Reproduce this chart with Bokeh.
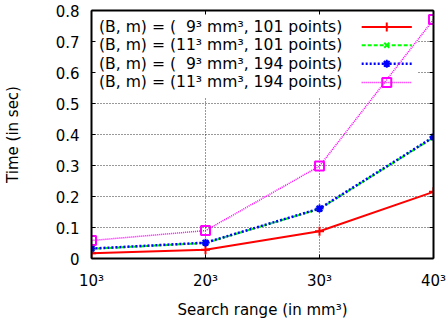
from bokeh.plotting import figure
from bokeh.models import FixedTicker, LinearAxis, CustomJSTickFormatter, Range1d
from bokeh.core.properties import value
from bokeh.embed import file_html
from bokeh.resources import INLINE

# search ranges (edge length cubed) on an evenly spaced axis
range_pos = [1, 2, 3, 4]
range_labels = ["10³", "20³", "30³", "40³"]

# run time in seconds for each (B, m) configuration
t_b9_m101 = [0.017, 0.028, 0.088, 0.215]
t_b11_m101 = [0.031, 0.050, 0.160, 0.390]
t_b9_m194 = [0.032, 0.051, 0.161, 0.392]
t_b11_m194 = [0.058, 0.090, 0.298, 0.771]

series_labels = [
    "(B, m) = (\u20079³ mm³, 101 points)",
    "(B, m) = (11³ mm³, 101 points)",
    "(B, m) = (\u20079³ mm³, 194 points)",
    "(B, m) = (11³ mm³, 194 points)",
]

y_ticks = [0, 0.1, 0.2, 0.3, 0.4, 0.5, 0.6, 0.7, 0.8]

FONT = "DejaVu Sans"
FS = "15px"
KEY_FS = "15.6px"

p = figure(
    frame_width=342, frame_height=248,
    min_border_left=90, min_border_right=14, min_border_top=10, min_border_bottom=62,
    x_range=Range1d(1, 4), y_range=Range1d(0, 0.8),
    output_backend="svg", toolbar_location=None,
    background_fill_color="white", border_fill_color="white",
)
p.outline_line_color = None

xticker = FixedTicker(ticks=range_pos)
yticker = FixedTicker(ticks=y_ticks)
xfmt = CustomJSTickFormatter(args=dict(labels=range_labels),
                             code="return labels[Math.round(tick) - 1];")
yfmt = CustomJSTickFormatter(code="return tick < 1e-9 ? '0' : tick.toFixed(1);")

for ax, tk in ((p.xaxis[0], xticker), (p.yaxis[0], yticker)):
    ax.ticker = tk
    ax.major_tick_in = 4
    ax.major_tick_out = 0
    ax.minor_tick_line_color = None
    ax.axis_line_width = 2
    ax.axis_line_color = "black"
    ax.major_tick_line_color = "black"
    ax.major_label_text_font = FONT
    ax.major_label_text_font_size = FS
    ax.major_label_text_color = "black"
    ax.axis_label_text_font = FONT
    ax.axis_label_text_font_size = FS
    ax.axis_label_text_font_style = "normal"
    ax.axis_label_text_color = "black"

p.xaxis[0].formatter = xfmt
p.yaxis[0].formatter = yfmt
p.xaxis[0].axis_label = "Search range (in mm³)"
p.yaxis[0].axis_label = "Time (in sec)"
p.xaxis[0].major_label_standoff = 13
p.xaxis[0].axis_label_standoff = 8
p.yaxis[0].major_label_standoff = 12
p.yaxis[0].axis_label_standoff = 31

# mirrored frame sides with inward ticks and no labels
for tk, side in ((yticker, "right"), (xticker, "above")):
    mirror = LinearAxis(ticker=tk, major_label_text_font_size="0px",
                        major_label_text_color=None,
                        major_tick_in=4, major_tick_out=0,
                        minor_tick_line_color=None, major_label_standoff=0,
                        axis_line_width=2, axis_line_color="black")
    p.add_layout(mirror, side)

for g in (p.xgrid[0], p.ygrid[0]):
    g.grid_line_color = "black"
    g.grid_line_dash = "1 2"
    g.grid_line_width = 1
    g.grid_line_alpha = 0.8
p.xgrid[0].ticker = xticker
p.ygrid[0].ticker = yticker

# opaque key area
p.quad(left=[1], right=[3.86], bottom=[0.52], top=[0.8],
       fill_color="white", line_color=None)

styles = [
    dict(color="#ff0000", dash="solid", width=2, marker="cross", size=9),
    dict(color="#00ff00", dash="4 2", width=2, marker="x", size=7),
    dict(color="#0000ff", dash="2 2", width=2.5, marker="asterisk", size=8),
    dict(color="#ff00ff", dash="1 1", width=1.5, marker="square", size=9),
]
series = [t_b9_m101, t_b11_m101, t_b9_m194, t_b11_m194]

key_y = [0.747, 0.688, 0.628, 0.568]
key_text_x = 3.20
key_line = (3.37, 3.81)
key_mark_x = 3.59

for ys, st, lab, ky in zip(series, styles, series_labels, key_y):
    p.line(range_pos, ys, line_color=st["color"], line_dash=st["dash"],
           line_width=st["width"])
    p.scatter(range_pos, ys, marker=st["marker"], size=st["size"],
              line_color=st["color"], fill_color=None, line_width=2)
    p.line(list(key_line), [ky, ky], line_color=st["color"], line_dash=st["dash"],
           line_width=st["width"])
    p.scatter([key_mark_x], [ky], marker=st["marker"], size=st["size"],
              line_color=st["color"], fill_color=None, line_width=2)
    p.text([key_text_x], [ky], text=[lab], text_align="right",
           text_baseline="middle", text_font=value(FONT),
           text_font_size=KEY_FS, text_color="black")

open("out.html", "w").write(file_html(p, INLINE))
